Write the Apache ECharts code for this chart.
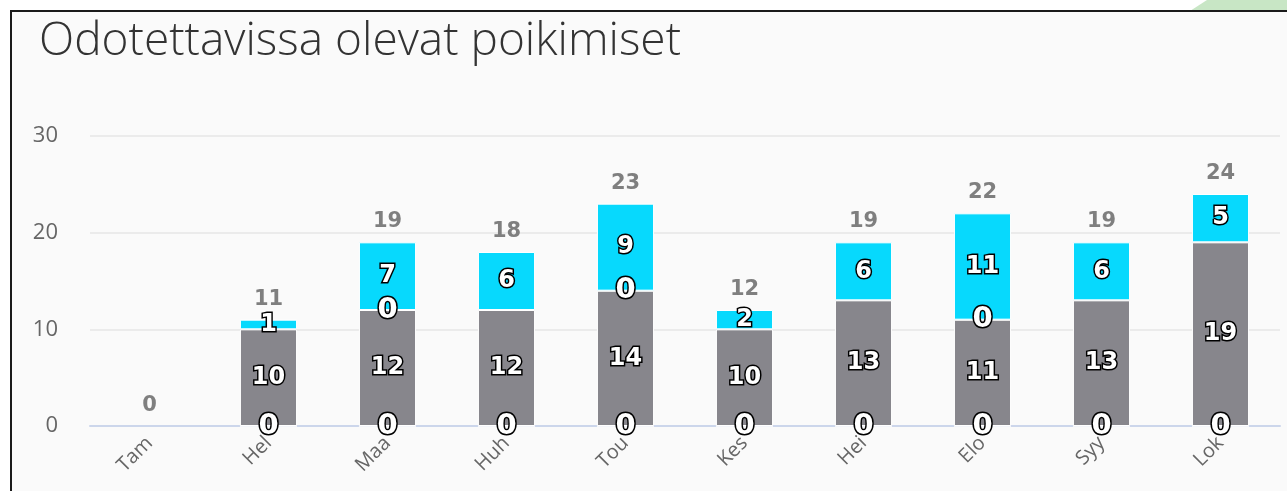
<!DOCTYPE html>
<html>
<head>
<meta charset="utf-8">
<script src="https://cdn.jsdelivr.net/npm/echarts@6/dist/echarts.min.js"></script>
<style>
  html, body { margin: 0; padding: 0; background: #ffffff; }
  #chart { width: 1287px; height: 491px; }
</style>
</head>
<body>
<div id="chart"></div>
<script>
// months shown on the axis
const months = ['Tam', 'Hel', 'Maa', 'Huh', 'Tou', 'Kes', 'Hei', 'Elo', 'Syy', 'Lok'];
// stacked segments, bottom to top
const baseVals = [null, 0, 0, 0, 0, 0, 0, 0, 0, 0];
const grayVals = [null, 10, 12, 12, 14, 10, 13, 11, 13, 19];
const midVals = [null, null, 0, null, 0, null, null, 0, null, null];
const cyanVals = [null, 1, 7, 6, 9, 2, 6, 11, 6, 5];
// totals shown above each bar
const totals = months.map((m, i) =>
  [baseVals, grayVals, midVals, cyanVals].reduce((s, arr) => s + (arr[i] || 0), 0));
const yTicks = { min: 0, max: 30, interval: 10 };

function segLabel(size) {
  return {
    show: true,
    position: 'inside',
    color: '#ffffff',
    fontFamily: 'DejaVu Sans',
    fontWeight: 'bold',
    fontSize: size,
    textBorderColor: '#000000',
    textBorderWidth: 3
  };
}

function stackSeries(name, data, color, size) {
  return {
    name: name,
    type: 'bar',
    stack: 'all',
    data: data,
    barWidth: '48%',
    itemStyle: { color: color, borderColor: '#ffffff', borderWidth: 1 },
    label: segLabel(size)
  };
}

const chart = echarts.init(document.getElementById('chart'));
chart.setOption({
  backgroundColor: '#ffffff',
  animation: false,
  graphic: [
    { type: 'rect', z: -10, shape: { x: 11, y: 11, width: 1290, height: 500 }, style: { fill: '#fafafa' } },
    { type: 'polygon', z: -9, shape: { points: [[1190, 11], [1287, 11], [1287, 0], [1207, 0]] }, style: { fill: '#c8e6c5' } },
    { type: 'line', z: 100, shape: { x1: 10, y1: 11, x2: 1290, y2: 11 }, style: { stroke: '#1a1a1a', lineWidth: 2 } },
    { type: 'line', z: 100, shape: { x1: 11, y1: 10, x2: 11, y2: 495 }, style: { stroke: '#1a1a1a', lineWidth: 2 } }
  ],
  title: {
    text: 'Odotettavissa olevat poikimiset',
    left: 34,
    top: 14,
    textStyle: { fontFamily: 'Open Sans', fontWeight: 300, fontSize: 46, color: '#333333' }
  },
  grid: { left: 90, right: 7, top: 136, bottom: 65, containLabel: false },
  xAxis: {
    type: 'category',
    data: months,
    axisTick: { show: false },
    axisLine: { lineStyle: { color: '#ccd6eb', width: 2 } },
    axisLabel: { rotate: 45, color: '#666666', fontSize: 20, fontFamily: 'Open Sans', margin: 14 }
  },
  yAxis: {
    type: 'value',
    min: yTicks.min,
    max: yTicks.max,
    interval: yTicks.interval,
    axisLabel: { color: '#666666', fontSize: 22, fontFamily: 'Open Sans', margin: 32 },
    splitLine: { lineStyle: { color: '#e6e6e6', width: 1.5 } }
  },
  series: [
    // zero-height segments render their labels smaller, so they get a larger size
    stackSeries('base', baseVals, '#87868c', 29),
    stackSeries('gray', grayVals, '#87868c', 24),
    stackSeries('mid', midVals, '#87868c', 29),
    stackSeries('cyan', cyanVals, '#07d9fd', 24),
    {
      name: 'total',
      type: 'scatter',
      data: totals,
      symbolSize: 0,
      z: 10,
      itemStyle: { opacity: 1 },
      label: {
        show: true,
        position: 'top',
        distance: 10,
        color: '#7f7f7f',
        fontFamily: 'DejaVu Sans',
        fontWeight: 'bold',
        fontSize: 21
      }
    }
  ]
});
</script>
</body>
</html>
